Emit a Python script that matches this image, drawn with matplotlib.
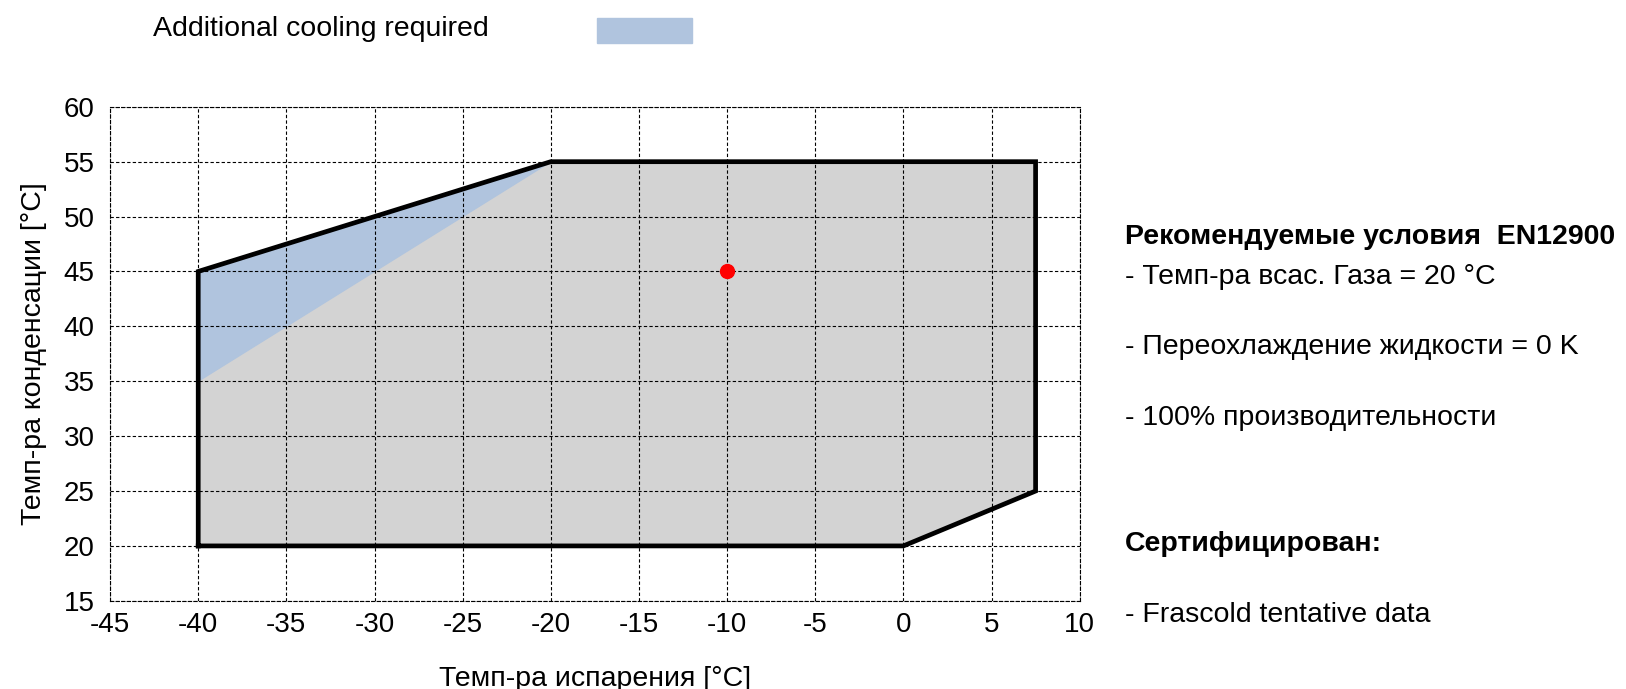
import matplotlib.pyplot as plt
from matplotlib.patches import Rectangle

plt.rcParams['font.family'] = ['Liberation Sans', 'DejaVu Sans']
plt.rcParams['axes.unicode_minus'] = False

# рабочая область (испарение, конденсация)
env_x = [-40, -40, -20, 7.5, 7.5, 0, -40]
env_y = [20, 45, 55, 55, 25, 20, 20]
# зона доп. охлаждения
cool_x = [-40, -40, -20]
cool_y = [35, 45, 55]
# рекомендуемая точка
pt_x = [-10]
pt_y = [45]

xticks = list(range(-45, 11, 5))
yticks = list(range(15, 61, 5))

fig = plt.figure(figsize=(16.26, 6.89), dpi=100)
ax = fig.add_axes([0.0677, 0.128, 0.5963, 0.717])

ax.fill(env_x, env_y, color='#d3d3d3', zorder=1)
ax.fill(cool_x, cool_y, color='#b0c4de', zorder=2)
ax.plot(env_x, env_y, color='black', lw=3.4, zorder=4, solid_joinstyle='miter')
ax.plot(pt_x, pt_y, 'o', color='red', ms=10, zorder=5)

ax.set_xlim(-45, 10)
ax.set_ylim(15, 60)
ax.set_xticks(xticks)
ax.set_yticks(yticks)
ax.tick_params(labelsize=20, length=0)
ax.tick_params(axis='x', pad=8)
ax.tick_params(axis='y', pad=11)
ax.grid(True, color='black', ls=(0, (3, 2)), lw=0.8, zorder=3)
ax.set_axisbelow(False)
for s in ax.spines.values():
    s.set_linestyle((0, (3, 2)))
    s.set_linewidth(0.8)

ax.set_xlabel('Темп-ра испарения [°C]', fontsize=20.5, labelpad=20)
ax.set_ylabel('Темп-ра конденсации [°C]', fontsize=20.5, labelpad=12)

# легенда
fig.text(153 / 1626, 1 - 29 / 689, 'Additional cooling required', fontsize=20.5, va='center')
fig.patches.append(Rectangle((597 / 1626, 1 - 43 / 689), 95 / 1626, 25 / 689,
                             transform=fig.transFigure, color='#b0c4de'))

# пояснения справа
notes = [
    ('Рекомендуемые условия  EN12900', 'bold', 237),
    ('- Темп-ра всас. Газа = 20 °C', 'normal', 277),
    ('- Переохлаждение жидкости = 0 K', 'normal', 347),
    ('- 100% производительности', 'normal', 418),
    ('Сертифицирован:', 'bold', 544),
    ('- Frascold tentative data', 'normal', 615),
]
for txt, w, yp in notes:
    fig.text(1125 / 1626, 1 - yp / 689, txt, fontsize=20.5, fontweight=w, va='center')

plt.savefig('out.png')
